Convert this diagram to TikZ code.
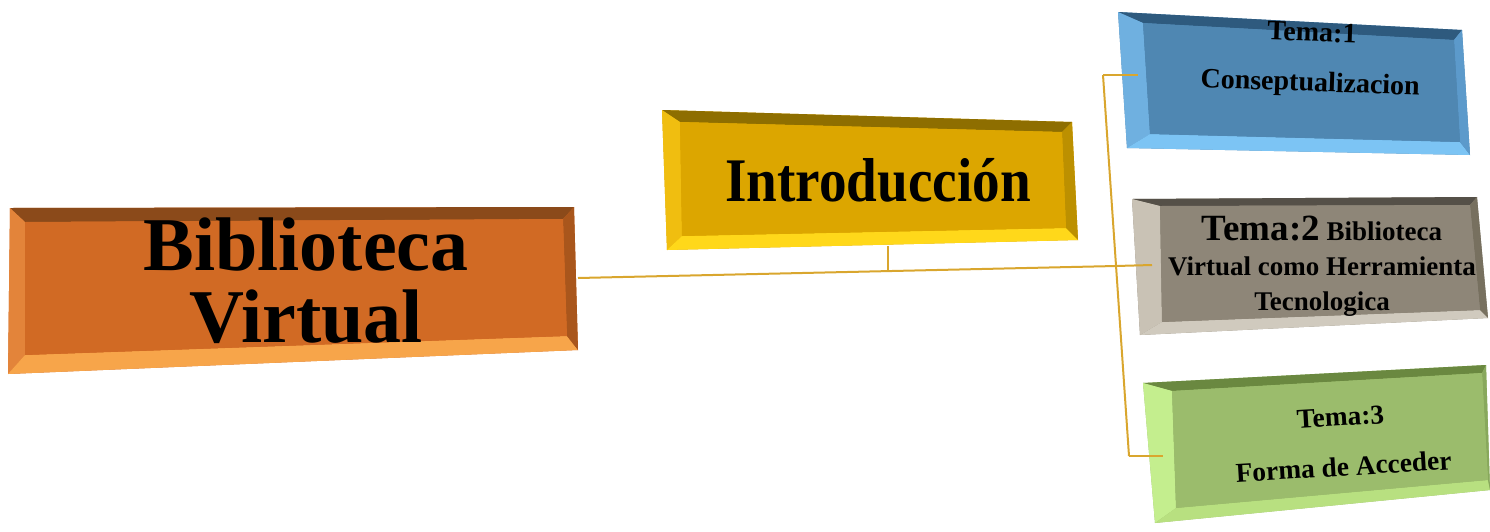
\documentclass[tikz,border=0pt]{standalone}
\usepackage{fontspec}
\setmainfont{Liberation Serif}

\definecolor{linkgold}{HTML}{D9A62E}
\definecolor{orfill}{HTML}{D16A24}
\definecolor{ortop}{HTML}{8B4A1A}
\definecolor{orleft}{HTML}{E3843A}
\definecolor{orbot}{HTML}{F7A54A}
\definecolor{orright}{HTML}{A9561C}
\definecolor{yefill}{HTML}{DCA600}
\definecolor{yetop}{HTML}{8E6E00}
\definecolor{yeleft}{HTML}{F0BE10}
\definecolor{yebot}{HTML}{FFD81A}
\definecolor{yeright}{HTML}{BC9000}
\definecolor{blfill}{HTML}{4F87B2}
\definecolor{bltop}{HTML}{2E5A7E}
\definecolor{blleft}{HTML}{6FB0E0}
\definecolor{blbot}{HTML}{7CC4F4}
\definecolor{blright}{HTML}{5C9ACB}
\definecolor{grfill}{HTML}{8E8678}
\definecolor{grtop}{HTML}{555048}
\definecolor{grleft}{HTML}{C9C2B5}
\definecolor{grbot}{HTML}{D0CABE}
\definecolor{grright}{HTML}{77705F}
\definecolor{gnfill}{HTML}{9BBC6C}
\definecolor{gntop}{HTML}{6A8840}
\definecolor{gnleft}{HTML}{C4EE8E}
\definecolor{gnbot}{HTML}{B8E080}
\definecolor{gnright}{HTML}{88A85C}

% bevelled box from outer corners #1-a..d and inner corners #1-ia..id
\newcommand{\bevelbox}[6]{%
  \fill[#2] (#1-a) -- (#1-b) -- (#1-c) -- (#1-d) -- cycle;
  \fill[#3] (#1-a) -- (#1-b) -- (#1-ib) -- (#1-ia) -- cycle;
  \fill[#4] (#1-a) -- (#1-ia) -- (#1-id) -- (#1-d) -- cycle;
  \fill[#5] (#1-d) -- (#1-id) -- (#1-ic) -- (#1-c) -- cycle;
  \fill[#6] (#1-b) -- (#1-c) -- (#1-ic) -- (#1-ib) -- cycle;
  \fill[#2] (#1-ia) -- (#1-ib) -- (#1-ic) -- (#1-id) -- cycle;
}

\tikzset{
  link/.style={draw=linkgold, line width=1pt},
  lbl/.style={align=center, font=\bfseries, inner sep=0pt}
}

\begin{document}
\begin{tikzpicture}[x=0.5pt, y=-0.5pt]
	\useasboundingbox (0,0) rectangle (1490,531);
	
	% corners
	\coordinate (bv-a) at (10,208);   \coordinate (bv-b) at (574,207);
	\coordinate (bv-c) at (578,350);  \coordinate (bv-d) at (8,374);
	\coordinate (bv-ia) at (25,222);  \coordinate (bv-ib) at (563,219);
	\coordinate (bv-ic) at (567,336); \coordinate (bv-id) at (25,355);
	
	\coordinate (in-a) at (662,110);  \coordinate (in-b) at (1072,122);
	\coordinate (in-c) at (1078,240); \coordinate (in-d) at (667,250);
	\coordinate (in-ia) at (680,122); \coordinate (in-ib) at (1062,132);
	\coordinate (in-ic) at (1066,228);\coordinate (in-id) at (682,236);
	
	\coordinate (ta-a) at (1118,12);  \coordinate (ta-b) at (1462,30);
	\coordinate (ta-c) at (1470,155); \coordinate (ta-d) at (1127,148);
	\coordinate (ta-ia) at (1143,23); \coordinate (ta-ib) at (1454,40);
	\coordinate (ta-ic) at (1460,142);\coordinate (ta-id) at (1150,134);
	
	\coordinate (tb-a) at (1132,199); \coordinate (tb-b) at (1477,197);
	\coordinate (tb-c) at (1488,318); \coordinate (tb-d) at (1140,335);
	\coordinate (tb-ia) at (1160,206);\coordinate (tb-ib) at (1470,205);
	\coordinate (tb-ic) at (1480,310);\coordinate (tb-id) at (1162,322);
	
	\coordinate (tc-a) at (1143,383); \coordinate (tc-b) at (1486,365);
	\coordinate (tc-c) at (1490,490); \coordinate (tc-d) at (1155,523);
	\coordinate (tc-ia) at (1172,391);\coordinate (tc-ib) at (1482,373);
	\coordinate (tc-ic) at (1488,480);\coordinate (tc-id) at (1176,508);
	
	\bevelbox{bv}{orfill}{ortop}{orleft}{orbot}{orright}
	\bevelbox{in}{yefill}{yetop}{yeleft}{yebot}{yeright}
	\bevelbox{ta}{blfill}{bltop}{blleft}{blbot}{blright}
	\bevelbox{tb}{grfill}{grtop}{grleft}{grbot}{grright}
	\bevelbox{tc}{gnfill}{gntop}{gnleft}{gnbot}{gnright}
	
	% texts
	\node[lbl, font=\bfseries\fontsize{38}{36}\selectfont] (bv) at (306,281) {Biblioteca\\Virtual};
	\node[lbl, font=\bfseries\fontsize{31}{31}\selectfont, xscale=0.89] (intro) at (878,180) {Introducción};
	\node[lbl, font=\bfseries\fontsize{14}{25}\selectfont, rotate=-2] (t1) at (1311,60) {Tema:1\\Conseptualizacion};
	\node[lbl, font=\bfseries\fontsize{13.5}{17.5}\selectfont] (t2) at (1322,266) {{\fontsize{18.5}{17.5}\selectfont Tema:2} Biblioteca\\Virtual como Herramienta\\Tecnologica};
	\node[lbl, font=\bfseries\fontsize{13.7}{25}\selectfont, rotate=3.5] (t3) at (1342,442) {Tema:3\\Forma de Acceder};
	
	% connectors
	\coordinate (bv-e) at (578,278);
	\coordinate (in-s) at (888,246);
	\coordinate (hub) at (888,271);
	\coordinate (s1) at (1103,75);
	\coordinate (s2) at (1116,266);
	\coordinate (s3) at (1129,456);
	\coordinate (ta-w) at (1138,75);
	\coordinate (tb-w) at (1152,265);
	\coordinate (tc-w) at (1163,456);
	
	\draw[link] (bv-e) -- (s2);
	\draw[link] (in-s) -- (hub);
	\draw[link] (s1) -- (s3);
	\draw[link] (s1) -- (ta-w);
	\draw[link] (s2) -- (tb-w);
	\draw[link] (s3) -- (tc-w);
	
\end{tikzpicture}
\end{document}
